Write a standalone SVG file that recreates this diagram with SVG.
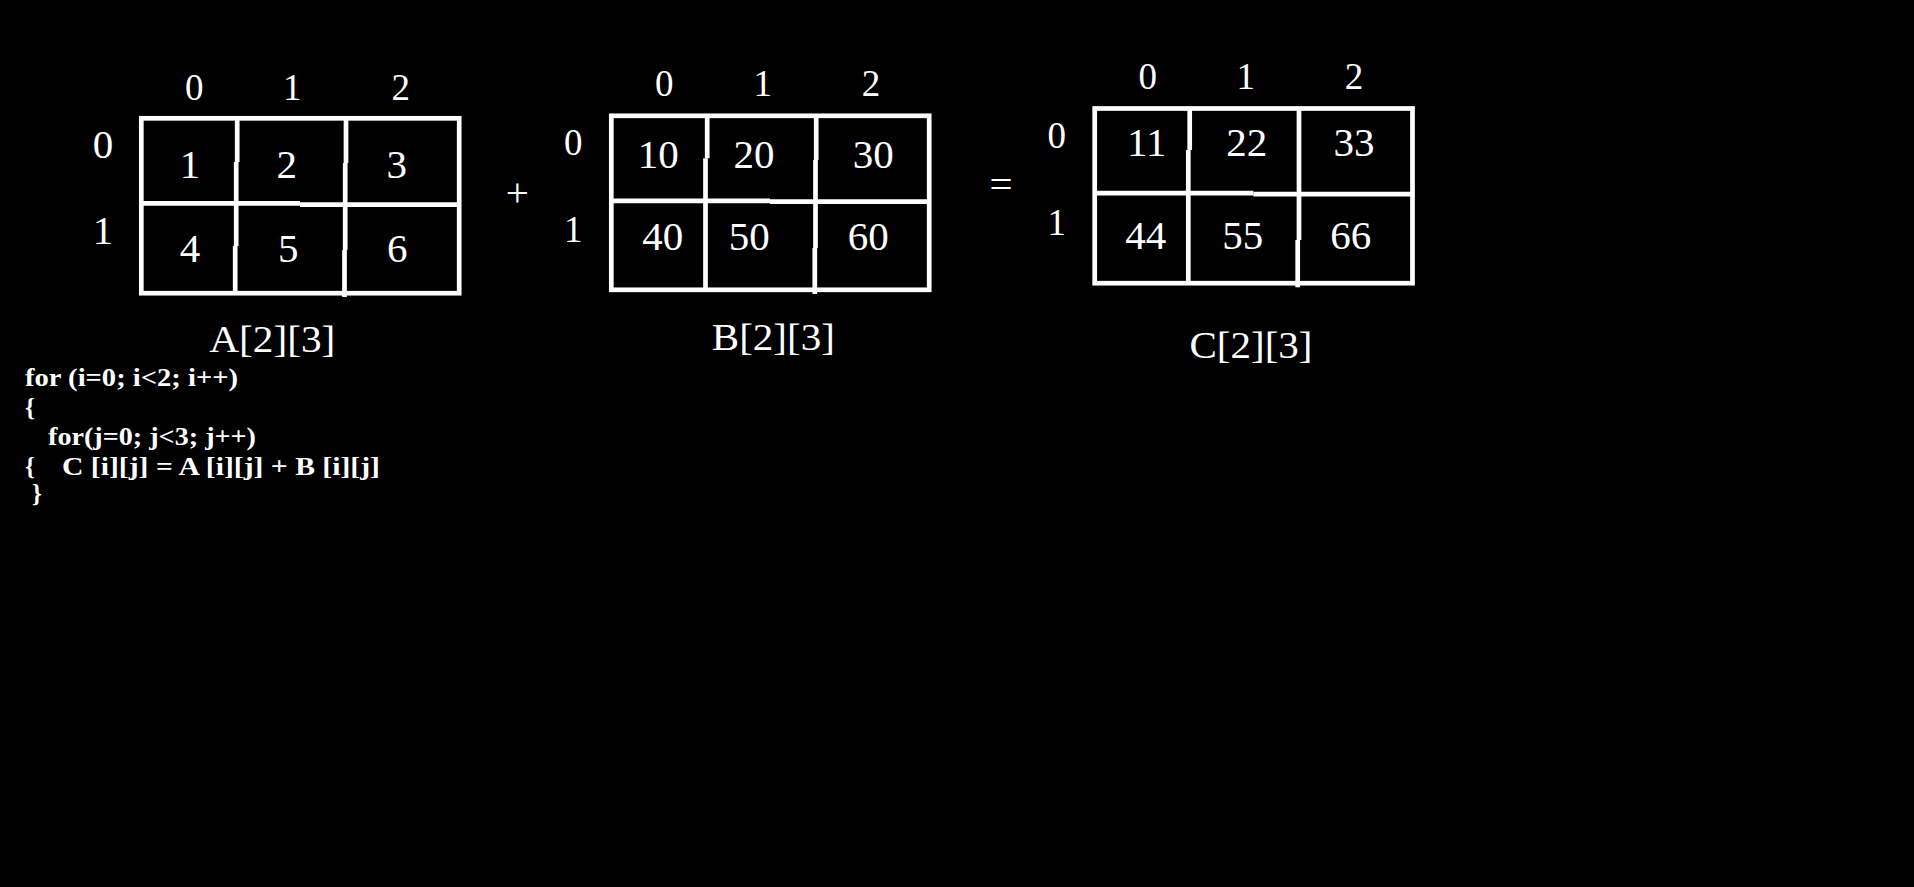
<svg xmlns="http://www.w3.org/2000/svg" width="1914" height="887" viewBox="0 0 1914 887">
<style>
.g line, .g rect{stroke:#fff;stroke-width:4.7;fill:none}
text{font-family:"Liberation Serif","Times New Roman",serif;fill:#fff}
.c{font-size:41px;text-anchor:middle}
.h{font-size:37px;text-anchor:middle}
.lb{font-size:38px;text-anchor:middle}
.op{font-size:41px;text-anchor:middle}
.code{font-size:25px;font-weight:bold}
</style>
<rect width="1914" height="887" fill="#000"/>
<g id="matrixA" class="g">
<rect x="141.3" y="118.3" width="317.9" height="174.9"/>
<line x1="141.3" y1="203.3" x2="300" y2="203.3"/>
<line x1="300" y1="204.7" x2="459.2" y2="204.7"/>
<line x1="237.2" y1="118.3" x2="237.2" y2="162"/>
<line x1="236.2" y1="162" x2="236.2" y2="246"/>
<line x1="235.2" y1="246" x2="235.2" y2="293.2"/>
<line x1="346" y1="118.3" x2="346" y2="163"/>
<line x1="345.2" y1="163" x2="345.2" y2="250"/>
<line x1="344.5" y1="250" x2="344.5" y2="297"/>
<text class="h" x="194.3" y="99.5">0</text>
<text class="h" x="292.3" y="99.5">1</text>
<text class="h" x="400.7" y="99.5">2</text>
<text class="c" x="103" y="157.7">0</text>
<text class="c" x="103" y="244.3">1</text>
<text class="c" x="190" y="177.7">1</text>
<text class="c" x="286.7" y="177.7">2</text>
<text class="c" x="396.7" y="177.7">3</text>
<text class="c" x="190" y="262.3">4</text>
<text class="c" x="288.3" y="262.3">5</text>
<text class="c" x="397.3" y="262.3">6</text>
<text class="lb" x="272.3" y="351.7" textLength="126" lengthAdjust="spacingAndGlyphs">A[2][3]</text>
</g>
<g id="plus"><text class="op" x="517.3" y="206">+</text></g>
<g id="matrixB" class="g">
<rect x="611.3" y="115.8" width="317.9" height="174"/>
<line x1="611.3" y1="200.8" x2="770" y2="200.8"/>
<line x1="770" y1="201.7" x2="929.2" y2="201.7"/>
<line x1="707.2" y1="115.8" x2="707.2" y2="158.3"/>
<line x1="705.5" y1="158.3" x2="705.5" y2="289.8"/>
<line x1="816.2" y1="115.8" x2="816.2" y2="160"/>
<line x1="815.5" y1="160" x2="815.5" y2="248"/>
<line x1="814.8" y1="248" x2="814.8" y2="294"/>
<text class="h" x="664.3" y="96">0</text>
<text class="h" x="762.7" y="96">1</text>
<text class="h" x="871" y="96">2</text>
<text class="h" x="573.3" y="155">0</text>
<text class="h" x="573.3" y="241.7">1</text>
<text class="c" x="658.3" y="168.3">10</text>
<text class="c" x="754" y="168.3">20</text>
<text class="c" x="873.3" y="168.3">30</text>
<text class="c" x="662.7" y="250">40</text>
<text class="c" x="749.3" y="250">50</text>
<text class="c" x="868.3" y="250">60</text>
<text class="lb" x="773.3" y="350" textLength="123" lengthAdjust="spacingAndGlyphs">B[2][3]</text>
</g>
<g id="equals"><text class="op" x="1001" y="198.3">=</text></g>
<g id="matrixC" class="g">
<rect x="1094.7" y="108.5" width="317.8" height="174.7"/>
<line x1="1094.7" y1="193.2" x2="1253.3" y2="193.2"/>
<line x1="1253.3" y1="194.2" x2="1412.5" y2="194.2"/>
<line x1="1189.7" y1="108.5" x2="1189.7" y2="150"/>
<line x1="1188.3" y1="150" x2="1188.3" y2="283.2"/>
<line x1="1299" y1="108.5" x2="1299" y2="240"/>
<line x1="1297.7" y1="240" x2="1297.7" y2="287.3"/>
<text class="h" x="1147.7" y="89.3">0</text>
<text class="h" x="1245.7" y="89.3">1</text>
<text class="h" x="1354" y="89.3">2</text>
<text class="h" x="1056.7" y="148.3">0</text>
<text class="h" x="1056.7" y="235">1</text>
<text class="c" x="1146.7" y="156">11</text>
<text class="c" x="1246.7" y="156">22</text>
<text class="c" x="1354" y="156">33</text>
<text class="c" x="1145.7" y="249">44</text>
<text class="c" x="1242.7" y="249">55</text>
<text class="c" x="1350.7" y="249">66</text>
<text class="lb" x="1251" y="358.3" textLength="123" lengthAdjust="spacingAndGlyphs">C[2][3]</text>
</g>
<g id="code">
<text class="code" x="25" y="386" textLength="213" lengthAdjust="spacingAndGlyphs">for (i=0; i&lt;2; i++)</text>
<text class="code" x="25" y="416">{</text>
<text class="code" x="48" y="445" textLength="208" lengthAdjust="spacingAndGlyphs">for(j=0; j&lt;3; j++)</text>
<text class="code" y="474.5"><tspan x="25">{</tspan><tspan x="62" textLength="318" lengthAdjust="spacingAndGlyphs">C [i][j] = A [i][j] + B [i][j]</tspan></text>
<text class="code" x="32" y="502">}</text>
</g>
<g id="connectors"/>
</svg>
